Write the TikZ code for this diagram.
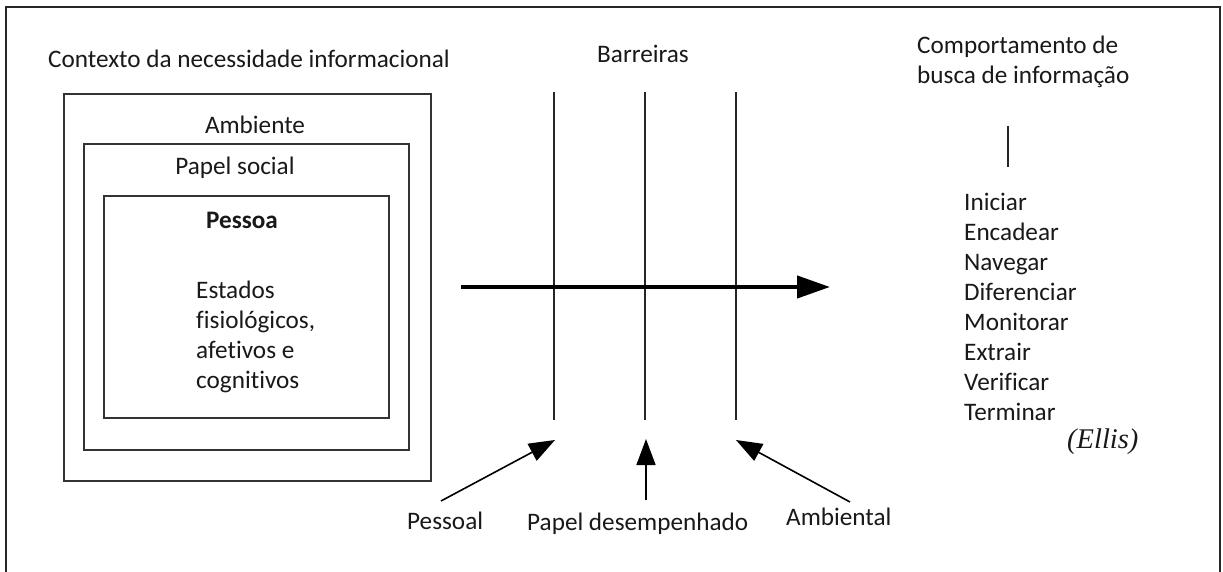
\documentclass[tikz,border=0pt]{standalone}
\usepackage{fontspec}
\setmainfont[Ligatures=NoCommon]{Carlito}
\newfontfamily\serifit{Liberation Serif}
\usetikzlibrary{arrows.meta}
\begin{document}
\begin{tikzpicture}[x=1pt,y=-1pt,
  txt/.style={inner sep=0pt,font=\fontsize{25.2}{30}\selectfont,text=black!90},
  frameline/.style={line width=2.6pt,draw=black!85},
  boxline/.style={line width=1.6pt,draw=black!80},
  barline/.style={line width=1.6pt,draw=black!85},
  flow/.style={line width=4.2pt,-{Triangle[length=33pt,width=22pt]}},
  push/.style={line width=1.6pt,-{Triangle[length=26pt,width=19pt]}}]
\useasboundingbox (0,0) rectangle (1223,572);
\fill[white] (0,0) rectangle (1223,572);
% outer frame (open at the bottom)
\draw[frameline] (6,572) -- (6,7) -- (1220,7) -- (1220,572);

% nested context boxes
\draw[boxline] (64,94) rectangle (431,481);
\draw[boxline] (84,144) rectangle (409,450);
\draw[boxline] (104,196) rectangle (389,418);
\node[txt,anchor=base west] (ctx) at (48,68) {Contexto da necessidade informacional};
\node[txt,anchor=base] (amb) at (255,134) {Ambiente};
\node[txt,anchor=base] (pap) at (235,175) {Papel social};
\node[txt,anchor=base,font=\fontsize{25.2}{30}\selectfont\bfseries] (pes) at (242,229) {Pessoa};
% multi-line texts are placed by the baseline of their last line
\node[txt,anchor=base west,align=left] (est) at (196,388) {Estados\\fisiológicos,\\afetivos e\\cognitivos};

% barriers
\node[txt,anchor=base] (bar) at (643,63) {Barreiras};
\foreach \n/\x in {b1/554,b2/645,b3/736}{
  \coordinate (\n t) at (\x,92);
  \coordinate (\n b) at (\x,420);
  \draw[barline] (\n t) -- (\n b);
}

% main flow arrow
\coordinate (fs) at (461,287);
\coordinate (fe) at (830,287);
\draw[flow] (fs) -- (fe);

% barrier sources
\node[txt,anchor=base west] (lp) at (407,529) {Pessoal};
\node[txt,anchor=base west] (ld) at (527,530) {Papel desempenhado};
\node[txt,anchor=base west] (la) at (786,525) {Ambiental};
\coordinate (p0) at (441,501);
\coordinate (p1) at (555,440);
\coordinate (d0) at (646,500);
\coordinate (d1) at (646,439);
\coordinate (a0) at (850,502);
\coordinate (a1) at (736,440);
\draw[push] (p0) -- (p1);
\draw[push] (d0) -- (d1);
\draw[push] (a0) -- (a1);

% information seeking behaviour (Ellis)
\node[txt,anchor=base west,align=left] (cb) at (917,84) {Comportamento de\\busca de informação};
\coordinate (ct) at (1008,126);
\coordinate (cbm) at (1008,167);
\draw[barline] (ct) -- (cbm);
\node[txt,anchor=base west,align=left] (ellis) at (964,420)
  {Iniciar\\Encadear\\Navegar\\Diferenciar\\Monitorar\\Extrair\\Verificar\\Terminar};
\node[txt,anchor=base west,font=\fontsize{28.5}{30}\selectfont\serifit\itshape] (src) at (1067,448) {(Ellis)};
\end{tikzpicture}
\end{document}
